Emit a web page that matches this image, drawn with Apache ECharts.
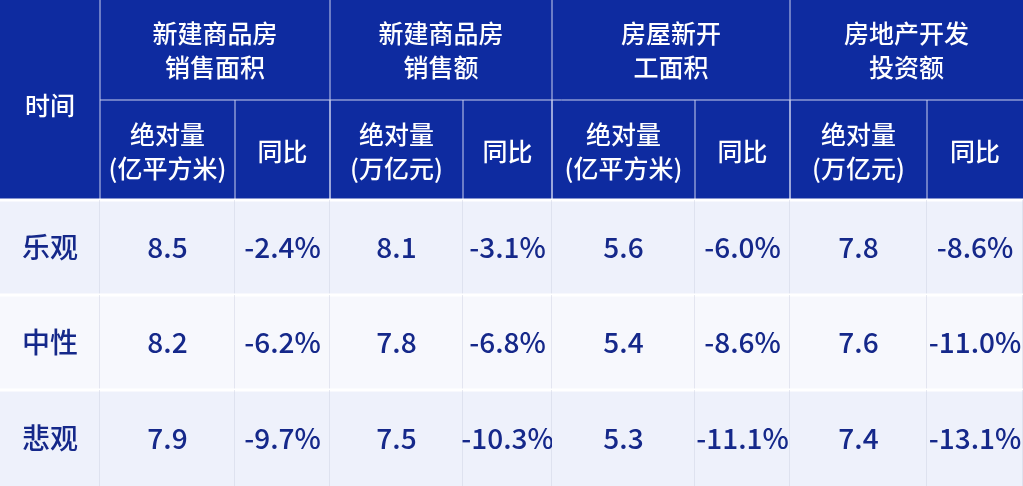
<!DOCTYPE html>
<html><head><meta charset="utf-8">
<script src="https://cdn.jsdelivr.net/npm/echarts@6/dist/echarts.min.js"></script>
<style>html,body{margin:0;padding:0;background:#fff}#c{width:1023px;height:486px}</style>
</head><body><div id="c"></div>
<script>
const scenarios = ['乐观', '中性', '悲观'];
const groups = ['新建商品房\n销售面积', '新建商品房\n销售额', '房屋新开\n工面积', '房地产开发\n投资额'];
const subHeaders = ['绝对量\n(亿平方米)', '同比', '绝对量\n(万亿元)', '同比', '绝对量\n(亿平方米)', '同比', '绝对量\n(万亿元)', '同比'];
const salesArea = [8.5, 8.2, 7.9];
const salesAreaYoY = ['-2.4%', '-6.2%', '-9.7%'];
const salesValue = [8.1, 7.8, 7.5];
const salesValueYoY = ['-3.1%', '-6.8%', '-10.3%'];
const newStarts = [5.6, 5.4, 5.3];
const newStartsYoY = ['-6.0%', '-8.6%', '-11.1%'];
const investment = [7.8, 7.6, 7.4];
const investmentYoY = ['-8.6%', '-11.0%', '-13.1%'];

// layout (pixels)
const colEdges = [0, 100, 235, 330, 463, 552, 695, 790, 927, 1023];
const rowEdges = [0, 100, 200, 295, 390, 486];
const HEAD = '#0e2ba0', TXT = '#15288a', FONT = '"Noto Sans CJK SC", sans-serif';
const rowBg = ['#eef1fb', '#f7f8fd', '#eef1fb'];

const cols = [salesArea, salesAreaYoY, salesValue, salesValueYoY, newStarts, newStartsYoY, investment, investmentYoY];
const data = [];
scenarios.forEach((s, r) => {
  data.push([0, r, s]);
  cols.forEach((c, i) => data.push([i + 1, r, typeof c[r] === 'number' ? c[r].toFixed(1) : c[r]]));
});

const graphics = [];
graphics.push({type:'rect', shape:{x:0,y:0,width:1023,height:200}, style:{fill:HEAD}});
graphics.push({type:'text', x:50, y:105, style:{text:'时间', fill:'#fff', font:'500 25px '+FONT, align:'center', verticalAlign:'middle'}});
groups.forEach((g, i) => {
  const x0 = colEdges[1 + 2*i], x1 = colEdges[3 + 2*i];
  graphics.push({type:'text', x:(x0+x1)/2, y:50, style:{text:g, fill:'#fff', font:'500 25px '+FONT, lineHeight:34, align:'center', verticalAlign:'middle'}});
  graphics.push({type:'line', shape:{x1:x0, y1:0, x2:x0, y2:200}, style:{stroke:'#c9d0ee', lineWidth:1}});
});
graphics.push({type:'line', shape:{x1:100, y1:100, x2:1023, y2:100}, style:{stroke:'#c9d0ee', lineWidth:1}});
subHeaders.forEach((h, i) => {
  const x0 = colEdges[i+1], x1 = colEdges[i+2];
  graphics.push({type:'text', x:(x0+x1)/2, y:151, style:{text:h, fill:'#fff', font:'500 25px '+FONT, lineHeight:34, align:'center', verticalAlign:'middle'}});
  if (i>0) graphics.push({type:'line', shape:{x1:x0, y1:100, x2:x0, y2:200}, style:{stroke:'#c9d0ee', lineWidth:1}});
});

const chart = echarts.init(document.getElementById('c'));
chart.setOption({
  animation:false,
  grid:{left:0, right:0, top:0, bottom:0},
  xAxis:{type:'value', min:0, max:9, show:false},
  yAxis:{type:'value', min:0, max:5, inverse:true, show:false},
  graphic: graphics,
  series:[{
    type:'custom',
    data: data,
    renderItem: function(params, api){
      const c = api.value(0), r = api.value(1);
      const x0 = colEdges[c], x1 = colEdges[c+1], y0 = rowEdges[r+2], y1 = rowEdges[r+3];
      const label = data[params.dataIndex][2];
      return {type:'group', children:[
        {type:'rect', shape:{x:x0, y:y0, width:x1-x0, height:y1-y0}, style:{fill:rowBg[r]}},
        {type:'line', shape:{x1:x0, y1:y0, x2:x1, y2:y0}, style:{stroke:'#ffffff', lineWidth:3}},
        {type:'line', shape:{x1:x1, y1:y0, x2:x1, y2:y1}, style:{stroke:'#cfd3e3', lineWidth:1}},
        {type:'text', x:(x0+x1)/2, y:(y0+y1)/2, style:{text:label, fill:TXT, font:'500 28px '+FONT, align:'center', verticalAlign:'middle'}}
      ]};
    }
  }]
});
</script></body></html>
